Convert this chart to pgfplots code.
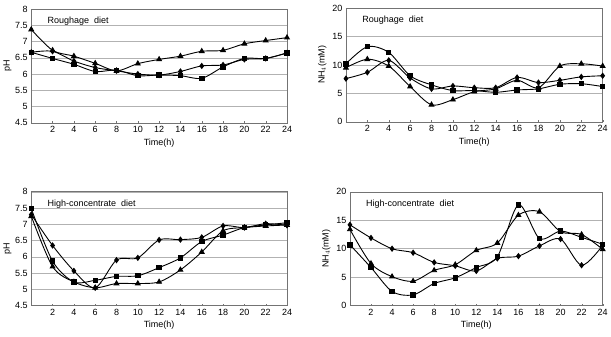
\documentclass[border=0pt]{standalone}
\usepackage{pgfplots}
\pgfplotsset{compat=1.18}
\usepackage{fontspec}
\setmainfont{Liberation Sans}

\pgfplotsset{
  panel/.style={
    scale only axis,
    width=256pt, height=114pt,
    xmin=0, xmax=24,
    xtick={2,4,...,24},
    axis line style={draw=black!55, line width=0.6pt},
    major tick length=2pt,
    tick style={draw=black!55},
    xtick pos=bottom, ytick pos=left,
    ytick style={draw=none},
    xtick align=inside,
    ymajorgrids,
    grid style={draw=black!30, line width=0.5pt},
    tick label style={font=\fontsize{9}{10}\selectfont},
    label style={font=\fontsize{9}{10}\selectfont},
    /pgf/number format/assume math mode=true,
    xlabel={Time(h)},
    xlabel style={yshift=1pt},
    every axis plot/.append style={black, line width=0.9pt, smooth, tension=0.5},
    clip=false,
  },
  phpanel/.style={panel, ymin=4.5, ymax=8, ytick={4.5,5,...,8}, ylabel={pH}, ylabel style={yshift=-3pt}},
  nhpanel/.style={panel, ymin=0, ymax=20, ytick={0,5,...,20}, ylabel={NH$_4$(mM)}, ylabel style={yshift=-1pt}},
  tri/.style={mark=triangle*, mark size=2.7pt},
  dia/.style={mark=diamond*, mark size=2.5pt},
  sqr/.style={mark=square*, mark size=2.2pt},
}
\newcommand{\paneltitle}[1]{\node[anchor=west, font=\fontsize{9}{10}\selectfont] at (rel axis cs:0.05,0.89) {#1};}

\begin{document}
\begin{tikzpicture}
\path (0,0) rectangle (611pt,-337pt);

% pH, roughage diet
\begin{axis}[phpanel, at={(31pt,-123pt)}, anchor=south west]
\addplot[tri] coordinates {(0,7.37)(2,6.73)(4,6.55)(6,6.33)(8,6.10)(10,6.32)(12,6.45)(14,6.55)(16,6.70)(18,6.73)(20,6.93)(22,7.03)(24,7.12)};
\addplot[dia] coordinates {(0,6.67)(2,6.70)(4,6.40)(6,6.20)(8,6.10)(10,6.00)(12,5.97)(14,6.08)(16,6.25)(18,6.28)(20,6.45)(22,6.48)(24,6.65)};
\addplot[sqr] coordinates {(0,6.67)(2,6.48)(4,6.30)(6,6.08)(8,6.12)(10,5.95)(12,5.97)(14,5.95)(16,5.87)(18,6.22)(20,6.48)(22,6.48)(24,6.65)};
\paneltitle{Roughage\ \ diet}
\end{axis}

% NH4, roughage diet
\begin{axis}[nhpanel, at={(346pt,-122pt)}, anchor=south west, width=257pt]
\addplot[sqr] coordinates {(0,10.2)(2,13.2)(4,12.2)(6,8.1)(8,6.5)(10,5.5)(12,5.5)(14,5.2)(16,5.6)(18,5.8)(20,6.6)(22,6.7)(24,6.2)};
\addplot[tri] coordinates {(0,9.5)(2,11.0)(4,9.8)(6,6.2)(8,3.0)(10,3.9)(12,5.3)(14,5.8)(16,7.3)(18,6.0)(20,9.8)(22,10.2)(24,9.8)};
\addplot[dia] coordinates {(0,7.6)(2,8.7)(4,10.8)(6,7.7)(8,5.8)(10,6.3)(12,6.0)(14,6.0)(16,7.8)(18,6.9)(20,7.3)(22,7.9)(24,8.1)};
\paneltitle{Roughage\ \ diet}
\end{axis}

% pH, high-concentrate diet
\begin{axis}[phpanel, at={(31pt,-306pt)}, anchor=south west]
\addplot[sqr] coordinates {(0,7.48)(2,5.87)(4,5.23)(6,5.28)(8,5.40)(10,5.42)(12,5.67)(14,5.97)(16,6.47)(18,6.67)(20,6.90)(22,6.98)(24,7.05)};
\addplot[dia] coordinates {(0,7.30)(2,6.35)(4,5.57)(6,5.05)(8,5.90)(10,5.97)(12,6.52)(14,6.53)(16,6.60)(18,6.95)(20,6.90)(22,7.02)(24,6.97)};
\addplot[tri] coordinates {(0,7.25)(2,5.70)(4,5.23)(6,5.05)(8,5.18)(10,5.18)(12,5.23)(14,5.60)(16,6.15)(18,6.80)(20,6.90)(22,6.95)(24,6.98)};
\paneltitle{High-concentrate\ \ diet}
\end{axis}

% NH4, high-concentrate diet
\begin{axis}[nhpanel, at={(350pt,-306pt)}, anchor=south west, width=253pt]
\addplot[dia] coordinates {(0,14.2)(2,11.9)(4,10.0)(6,9.3)(8,7.6)(10,7.0)(12,6.1)(14,8.3)(16,8.7)(18,10.5)(20,11.7)(22,7.1)(24,10.6)};
\addplot[tri] coordinates {(0,13.4)(2,7.4)(4,5.1)(6,4.3)(8,6.2)(10,7.2)(12,9.7)(14,11.0)(16,15.9)(18,16.5)(20,13.0)(22,12.5)(24,9.9)};
\addplot[sqr] coordinates {(0,10.7)(2,6.7)(4,2.5)(6,1.9)(8,3.9)(10,4.9)(12,6.7)(14,8.6)(16,17.7)(18,11.8)(20,13.1)(22,12.0)(24,10.8)};
\paneltitle{High-concentrate\ \ diet}
\end{axis}
\end{tikzpicture}
\end{document}
